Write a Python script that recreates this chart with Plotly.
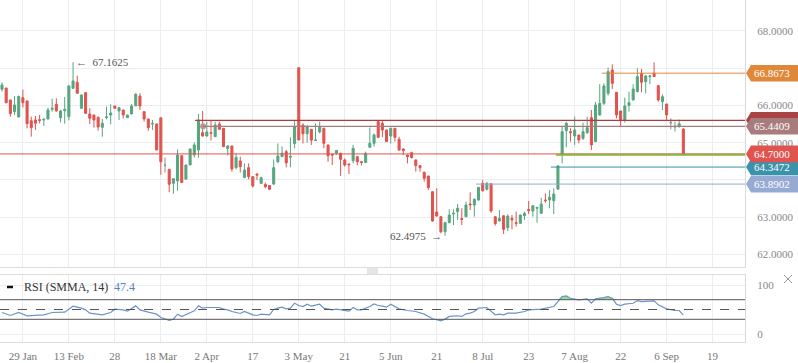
import numpy as np
import plotly.graph_objects as go

# ---------------- data ----------------
OPEN = [66.435, 66.470, 66.148, 65.835, 65.692, 66.211, 66.121, 65.593, 65.611, 65.620,
        65.611, 65.638, 65.897, 66.032, 65.674, 65.862, 65.700, 66.461, 66.622, 65.924,
        66.345, 65.772, 65.745, 65.683, 65.414, 65.674, 65.745, 65.987, 65.853, 65.880,
        65.674, 65.772, 65.990, 66.255, 65.835, 65.638, 65.500, 65.503, 65.670, 64.395,
        64.287, 63.911, 63.974, 64.654, 64.027, 64.403, 64.672, 64.806, 65.271, 65.180,
        65.271, 65.164, 65.503, 65.387, 64.842, 64.913, 64.331, 64.510, 64.070, 64.330,
        64.090, 64.160, 63.910, 63.880, 63.850, 63.890, 64.490, 64.630, 64.760, 64.610,
        64.980, 67.015, 65.476, 65.240, 65.360, 65.060, 65.290, 65.390, 64.940, 64.690,
        64.720, 64.720, 64.537, 64.430, 64.520, 64.626, 64.490, 64.470, 64.877, 64.984,
        65.566, 65.520, 65.342, 65.180, 65.387, 65.091, 64.832, 64.670, 64.733, 64.537,
        64.385, 64.206, 64.107, 63.686, 63.140, 63.015, 62.612, 62.854, 63.087, 63.150,
        62.963, 63.015, 63.355, 63.328, 63.462, 63.910, 63.750, 63.900, 63.015, 62.900,
        63.040, 62.720, 62.970, 62.854, 62.836, 63.040, 63.210, 63.167, 63.240, 63.105,
        63.463, 63.463, 63.445, 63.758, 64.698, 65.324, 65.297, 65.180, 65.208, 65.118,
        65.270, 65.673, 65.030, 65.745, 66.058, 66.327, 66.953, 66.353, 65.853, 65.611,
        66.000, 66.148, 66.372, 66.864, 66.640, 66.775, 66.864, 66.533, 66.103, 66.040,
        65.540, 65.420, 65.450, 65.370]
HIGH = [66.622, 66.475, 66.150, 66.255, 66.260, 66.425, 66.130, 65.700, 65.718, 65.745,
        65.656, 65.942, 66.184, 66.193, 65.880, 66.228, 66.551, 67.1625, 66.801, 66.290,
        66.350, 65.924, 65.750, 65.700, 65.638, 65.969, 66.032, 65.990, 65.950, 65.885,
        65.750, 66.040, 66.330, 66.330, 65.840, 65.640, 65.611, 65.510, 65.675, 64.600,
        64.290, 64.040, 64.824, 64.660, 64.410, 64.840, 65.010, 65.772, 65.850, 65.566,
        65.600, 65.566, 65.566, 65.390, 64.940, 64.920, 64.716, 64.626, 64.447, 64.447,
        64.095, 64.180, 64.090, 63.930, 63.855, 64.550, 64.980, 64.900, 64.810, 65.145,
        65.590, 67.020, 65.520, 65.480, 65.365, 65.520, 65.566, 65.395, 64.945, 64.695,
        64.810, 64.725, 64.580, 64.435, 64.940, 64.630, 64.495, 64.760, 65.410, 65.250,
        65.590, 65.590, 65.350, 65.405, 65.390, 65.163, 64.850, 64.675, 64.760, 64.555,
        64.400, 64.224, 64.110, 63.690, 63.776, 63.020, 62.880, 63.212, 63.212, 63.355,
        63.240, 63.418, 63.668, 63.507, 63.810, 64.000, 63.950, 63.905, 63.020, 63.194,
        63.045, 63.077, 63.060, 63.150, 63.065, 63.150, 63.436, 63.310, 63.284, 63.525,
        63.642, 63.731, 63.776, 64.403, 65.432, 65.566, 65.387, 65.700, 65.210, 65.540,
        65.700, 65.879, 66.100, 66.570, 66.595, 67.016, 67.105, 66.360, 65.860, 66.210,
        66.372, 66.570, 66.998, 66.980, 66.820, 66.820, 67.160, 66.540, 66.300, 66.045,
        65.656, 65.566, 65.620, 65.387]
LOW = [66.372, 66.060, 65.700, 65.745, 65.680, 65.942, 65.387, 65.164, 65.343, 65.522,
       65.450, 65.620, 65.835, 65.835, 65.548, 65.513, 65.602, 66.450, 66.320, 65.920,
       65.780, 65.504, 65.405, 65.325, 65.164, 65.629, 65.495, 65.920, 65.611, 65.650,
       65.670, 65.770, 65.985, 65.880, 65.570, 65.320, 65.343, 64.800, 64.140, 64.200,
       63.670, 63.630, 63.714, 63.920, 64.000, 64.400, 64.600, 64.600, 65.164, 65.164,
       65.060, 65.160, 65.350, 64.890, 64.660, 64.224, 64.287, 64.200, 64.045, 64.020,
       63.800, 64.000, 63.890, 63.780, 63.740, 63.870, 64.450, 64.610, 64.340, 64.340,
       64.850, 65.070, 64.980, 65.000, 64.940, 65.050, 65.250, 64.850, 64.490, 64.400,
       64.670, 64.110, 64.360, 64.160, 64.450, 64.400, 64.390, 64.460, 64.870, 64.895,
       65.140, 65.145, 65.020, 64.980, 65.030, 64.787, 64.670, 64.447, 64.580, 64.224,
       64.224, 63.955, 63.730, 62.880, 63.015, 62.568, 62.4975, 62.836, 62.790, 62.926,
       62.790, 63.015, 63.194, 63.015, 63.445, 63.686, 63.720, 63.120, 62.774, 62.890,
       62.550, 62.630, 62.675, 62.747, 62.830, 62.926, 63.087, 63.015, 62.854, 63.100,
       63.390, 63.240, 63.087, 63.731, 64.447, 64.877, 65.030, 64.940, 64.984, 65.074,
       65.236, 64.805, 65.020, 65.730, 66.014, 66.265, 66.443, 65.656, 65.450, 65.540,
       65.835, 66.130, 66.355, 66.354, 66.327, 66.570, 66.770, 66.103, 65.880, 65.610,
       65.360, 65.300, 65.400, 64.700]
CLOSE = [66.551, 66.076, 65.781, 66.014, 66.246, 66.076, 65.513, 65.405, 65.522, 65.602,
         65.629, 65.880, 65.924, 65.853, 65.853, 65.897, 66.524, 66.658, 66.327, 66.282,
         65.790, 65.656, 65.611, 65.423, 65.522, 65.692, 65.799, 65.924, 65.942, 65.745,
         65.745, 65.987, 66.300, 65.987, 65.638, 65.405, 65.520, 64.806, 64.490, 64.395,
         63.884, 64.036, 64.672, 63.930, 64.403, 64.833, 64.940, 65.611, 65.180, 65.289,
         65.253, 65.477, 65.360, 64.895, 64.913, 64.296, 64.609, 64.358, 64.268, 64.090,
         63.840, 64.130, 64.060, 63.820, 63.750, 64.330, 64.645, 64.720, 64.460, 64.630,
         65.430, 65.074, 65.240, 65.430, 65.070, 65.074, 65.430, 64.985, 64.650, 64.670,
         64.790, 64.555, 64.400, 64.410, 64.850, 64.490, 64.470, 64.716, 64.984, 65.210,
         65.145, 65.340, 65.030, 65.387, 65.145, 64.805, 64.787, 64.626, 64.600, 64.385,
         64.330, 64.045, 63.794, 62.899, 63.033, 62.612, 62.854, 63.060, 63.105, 63.240,
         62.944, 63.328, 63.337, 63.480, 63.803, 63.713, 63.910, 63.167, 62.830, 62.970,
         62.675, 63.030, 62.930, 62.836, 63.060, 63.105, 63.176, 63.310, 63.260, 63.355,
         63.445, 63.534, 63.624, 64.376, 65.297, 65.521, 65.270, 65.342, 65.074, 65.297,
         65.405, 64.940, 66.014, 66.058, 66.524, 66.909, 66.595, 65.745, 65.611, 65.987,
         66.076, 66.443, 66.775, 66.622, 66.792, 66.792, 66.775, 66.148, 66.237, 65.745,
         65.540, 65.440, 65.510, 64.700]

TICK_BARS = [5, 16, 27, 38, 49, 60, 71, 82, 93, 104, 115, 126, 137, 148, 159, 170]
TICK_LABELS = ["29 Jan", "13 Feb", "28", "18 Mar", "2 Apr", "17", "3 May", "21",
               "5 Jun", "21", "8 Jul", "23", "7 Aug", "22", "6 Sep", "19"]
PRICE_TICKS = [62, 63, 64, 65, 66, 67, 68]
PRICE_TICK_TEXT = ["62.0000", "63.0000", "", "65.0000", "66.0000", "", "68.0000"]  # 64/67 sit under the label boxes

RSI_BARS = [0, 2, 4, 6, 10, 12, 15, 17, 19, 20, 21, 23, 24, 26, 27, 29, 30, 32, 33, 35,
            37, 38, 39, 40, 41, 42, 43, 44, 45, 46, 47, 48, 49, 51, 52, 53, 54, 55, 57, 58,
            59, 60, 61, 62, 64, 65, 66, 67, 68, 69, 70, 71, 72, 73, 74, 75, 76, 77, 79, 80,
            82, 83, 84, 85, 86, 87, 88, 89, 90, 91, 92, 93, 95, 97, 99, 101, 103, 104, 105, 106,
            107, 109, 110, 111, 112, 113, 114, 116, 117, 118, 119, 120, 121, 123, 125, 126, 129, 130, 132, 133,
            134, 135, 136, 138, 140, 141, 142, 144, 145, 146, 147, 148, 149, 151, 152, 153, 156, 157, 158, 159,
            161, 162, 163]
RSI_VALUES = [43.9, 37.8, 43.9, 37.2, 39.2, 43.9, 44.6, 56.8, 52.7, 49.3, 42.6, 40.5, 39.2, 43.9, 50.7, 49.3, 46.6, 57.4, 49.3, 44.6,
              40.5, 33.8, 31.1, 27.7, 30.4, 40.5, 35.8, 39.2, 43.9, 47.3, 57.4, 52.7, 54.1, 54.7, 54.1, 50.7, 49.3, 45.9, 41.9, 45.9,
              42.6, 39.2, 37.8, 40.5, 39.2, 50.0, 52.7, 54.7, 51.4, 52.7, 62.8, 58.1, 56.1, 60.8, 56.8, 58.1, 60.8, 52.7, 49.3, 50.7,
              48.0, 46.6, 54.1, 49.3, 49.3, 52.7, 56.1, 61.5, 58.1, 56.8, 54.7, 60.8, 51.4, 48.0, 45.9, 40.5, 31.1, 29.1, 27.0, 30.4,
              35.8, 37.2, 35.8, 41.2, 42.6, 45.9, 52.7, 54.1, 45.9, 39.2, 40.5, 39.2, 42.6, 42.6, 45.9, 49.3, 50.7, 52.7, 56.1, 66.2,
              76.4, 77.7, 73.0, 69.6, 71.6, 62.8, 71.6, 74.3, 76.4, 73.0, 60.8, 58.1, 60.8, 62.8, 68.2, 66.2, 67.6, 59.5, 56.1, 51.4,
              48.0, 48.0, 39.2]

# level lines: value, first bar, line colour
LEVELS = [66.8673, 65.6024, 65.4409, 64.7000, 64.6750, 64.3472, 63.8902]
LEVEL_START = [143.5, 46.2, 48.1, -0.5, 132.5, 131.3, 113.4]
LEVEL_COLORS = ["#e0883a", "#b23c3c", "#a87c7c", "#e0534f", "#8db33a", "#3d8fa8", "#94a9d2"]
LEVEL_WIDTHS = [1, 1.2, 1.2, 1, 2, 1, 1]
LABEL_LEVELS = [65.6024, 66.8673, 63.8902, 64.3472, 65.4409, 64.7000]
LABEL_COLORS = ["#a84444", "#e0883a", "#96abd3", "#3a92ab", "#a87c7c", "#e0534f"]
LABEL_TEXTS = ["", "66.8673", "63.8902", "64.3472", "65.4409", "64.7000"]

# ---------------- geometry ----------------
W, H = 798, 363
X_RANGE = [-0.478, 177.75]
Y_RANGE = [61.664, 68.832]
RSI_RANGE = [-16.3, 120.4]
XD = [0, 745 / W]
PPU = 37.25  # px per price unit


def px(x):
    return x / W


def py(y):
    return 1 - y / H


GREEN = "#56a67f"
RED = "#e0534f"
GRAY = "#8a8a8a"
SERIF = "Liberation Serif"

o = np.array(OPEN); h = np.array(HIGH); l = np.array(LOW); c = np.array(CLOSE)
idx = np.arange(len(o))

fig = go.Figure()
for mask, col in [(c > o, GREEN), (c < o, RED), (c == o, GRAY)]:
    fig.add_trace(go.Candlestick(
        x=idx[mask], open=o[mask], high=h[mask], low=l[mask], close=c[mask],
        increasing=dict(line=dict(color=col, width=1), fillcolor=col),
        decreasing=dict(line=dict(color=col, width=1), fillcolor=col),
        whiskerwidth=0, showlegend=False, hoverinfo="skip", xaxis="x", yaxis="y"))

# marker at start of the mauve level
fig.add_trace(go.Scatter(x=[LEVEL_START[2]], y=[LEVELS[2]], mode="markers",
                         marker=dict(size=6, color="#b89494"), showlegend=False,
                         hoverinfo="skip", xaxis="x", yaxis="y"))

# RSI fills
rb = np.array(RSI_BARS); rv = np.array(RSI_VALUES)
fig.add_trace(go.Scatter(x=rb, y=np.full(len(rb), 70.0), mode="lines", line=dict(width=0),
                         showlegend=False, hoverinfo="skip", xaxis="x2", yaxis="y2"))
fig.add_trace(go.Scatter(x=rb, y=np.maximum(rv, 70.0), mode="lines", line=dict(width=0),
                         fill="tonexty", fillcolor="#8ee38e", showlegend=False,
                         hoverinfo="skip", xaxis="x2", yaxis="y2"))
fig.add_trace(go.Scatter(x=rb, y=np.full(len(rb), 30.0), mode="lines", line=dict(width=0),
                         showlegend=False, hoverinfo="skip", xaxis="x2", yaxis="y2"))
fig.add_trace(go.Scatter(x=rb, y=np.minimum(rv, 30.0), mode="lines", line=dict(width=0),
                         fill="tonexty", fillcolor="#e89a9a", showlegend=False,
                         hoverinfo="skip", xaxis="x2", yaxis="y2"))
fig.add_trace(go.Scatter(x=rb, y=rv, mode="lines", line=dict(color="#6e93c9", width=1.2),
                         showlegend=False, hoverinfo="skip", xaxis="x2", yaxis="y2"))

shapes = []
# level lines
for v, s, col, wd in zip(LEVELS, LEVEL_START, LEVEL_COLORS, LEVEL_WIDTHS):
    shapes.append(dict(type="line", xref="x", yref="y", x0=s, x1=X_RANGE[1], y0=v, y1=v,
                       line=dict(color=col, width=wd), layer="above"))
# RSI reference lines
for v, d in [(70, "solid"), (50, "dash"), (30, "solid")]:
    shapes.append(dict(type="line", xref="x2 domain", yref="y2", x0=0, x1=1, y0=v, y1=v,
                       line=dict(color="#555555", width=1, dash=d)))
# price label boxes (pointed)
hh = 8.3 / PPU
for v, col in zip(LABEL_LEVELS, LABEL_COLORS):
    x0, x1, x2 = px(746), px(751), 1.0
    path = (f"M {x0},{v} L {x1},{v + hh} L {x2},{v + hh} L {x2},{v - hh} "
            f"L {x1},{v - hh} Z")
    shapes.append(dict(type="path", xref="paper", yref="y", path=path,
                       fillcolor=col, line=dict(width=0), layer="above"))
# separator handle
for yy in (269, 271, 273):
    shapes.append(dict(type="line", xref="paper", yref="paper", x0=px(367), x1=px(378),
                       y0=py(yy), y1=py(yy), line=dict(color="#cccccc", width=1)))
# close cross
shapes.append(dict(type="line", xref="paper", yref="paper", x0=px(784), x1=px(792),
                   y0=py(275), y1=py(283), line=dict(color="#999999", width=1)))
shapes.append(dict(type="line", xref="paper", yref="paper", x0=px(784), x1=px(792),
                   y0=py(283), y1=py(275), line=dict(color="#999999", width=1)))
# legend dash
shapes.append(dict(type="line", xref="paper", yref="paper", x0=px(7), x1=px(13),
                   y0=py(287), y1=py(287), line=dict(color="#111111", width=2.5)))

ann = []
for v, t in zip(LABEL_LEVELS, LABEL_TEXTS):
    if t:
        ann.append(dict(xref="paper", yref="y", x=px(772), y=v, text=t, showarrow=False,
                        xanchor="center", yanchor="middle",
                        font=dict(family=SERIF, size=11, color="white")))
hi_i = int(np.argmax(h)); lo_i = int(np.argmin(l))
ann.append(dict(xref="x", yref="y", x=hi_i, y=h[hi_i], xshift=1, text=f"\u2190  {h[hi_i]:.4f}",
                showarrow=False, xanchor="left", yanchor="middle",
                font=dict(family=SERIF, size=11, color="#555555")))
ann.append(dict(xref="x", yref="y", x=lo_i, y=l[lo_i], xshift=-1, text=f"{l[lo_i]:.4f}  \u2192",
                showarrow=False, xanchor="right", yanchor="middle",
                font=dict(family=SERIF, size=11, color="#555555")))
ann.append(dict(xref="paper", yref="paper", x=px(22), y=py(287), text="RSI (SMMA, 14)",
                showarrow=False, xanchor="left", yanchor="middle",
                font=dict(family=SERIF, size=12, color="#333333")))
ann.append(dict(xref="paper", yref="paper", x=px(112), y=py(287), text="47.4",
                showarrow=False, xanchor="left", yanchor="middle",
                font=dict(family=SERIF, size=12, color="#5b7fc0")))

GRID = "#eaedf1"
fig.update_layout(
    width=W, height=H, margin=dict(l=0, r=0, t=0, b=0),
    paper_bgcolor="white", plot_bgcolor="white", showlegend=False,
    shapes=shapes, annotations=ann,
    xaxis=dict(domain=XD, range=X_RANGE, anchor="y", tickvals=TICK_BARS,
               showticklabels=False, showgrid=True, gridcolor=GRID, zeroline=False,
               showline=True, linecolor="#dddddd", ticks="",
               rangeslider=dict(visible=False)),
    xaxis2=dict(domain=XD, range=X_RANGE, anchor="y2", matches="x", tickvals=TICK_BARS,
                ticktext=TICK_LABELS, showgrid=True, gridcolor=GRID, zeroline=False,
                showline=True, mirror=True, linecolor="#dddddd",
                ticks="outside", ticklen=4, tickcolor="rgba(0,0,0,0)",
                tickfont=dict(family=SERIF, size=11, color="#777777"),
                rangeslider=dict(visible=False)),
    yaxis=dict(domain=[1 - 267 / H, 1], range=Y_RANGE, side="right", anchor="x",
               tickvals=PRICE_TICKS, ticktext=PRICE_TICK_TEXT,
               showgrid=True, gridcolor=GRID, zeroline=False, showline=True,
               linecolor="#d8d8d8", ticks="outside", ticklen=9, tickcolor="rgba(0,0,0,0)",
               tickfont=dict(family=SERIF, size=11, color="#888888")),
    yaxis2=dict(domain=[1 - 342 / H, 1 - 275 / H], range=RSI_RANGE, side="right", anchor="x2",
                tickvals=[0, 100], showgrid=True, gridcolor=GRID, zeroline=False,
                showline=True, linecolor="#d8d8d8", ticks="outside", ticklen=9,
                tickcolor="rgba(0,0,0,0)",
                tickfont=dict(family=SERIF, size=11, color="#888888")),
)

fig.write_html("out.html", config={"displayModeBar": False},
               post_script="document.body.style.margin='0';document.body.style.overflow='hidden';")
